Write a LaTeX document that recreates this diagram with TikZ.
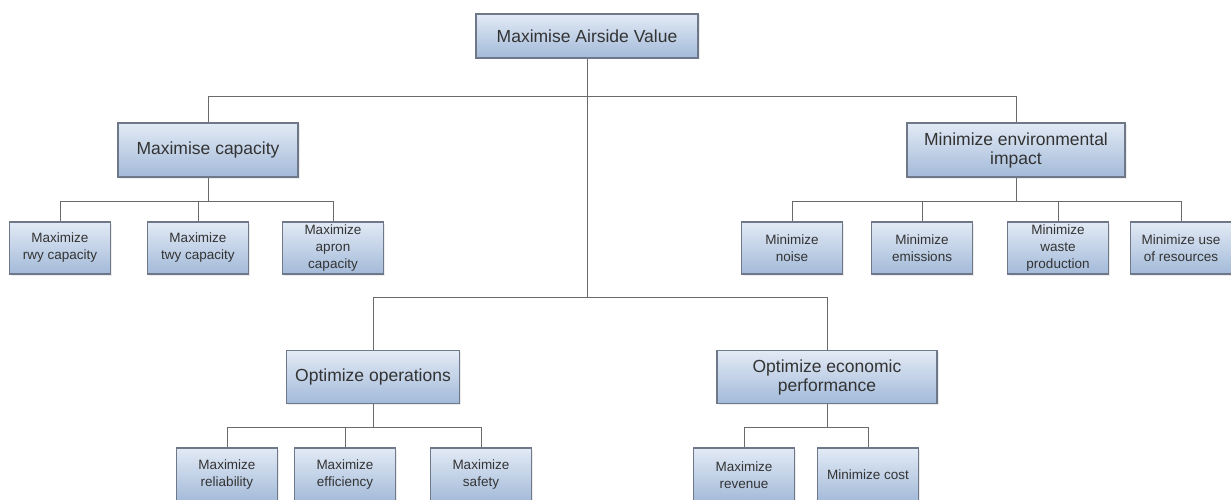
\documentclass[tikz,border=0pt]{standalone}
\usepackage{fontspec}
\setmainfont{Liberation Sans}
\usetikzlibrary{shadows}
\definecolor{boxtop}{HTML}{E2EAF5}
\definecolor{boxbot}{HTML}{A3BAD9}
\definecolor{boxline}{HTML}{6E7888}
\definecolor{wire}{HTML}{6A6A6A}
\definecolor{txt}{HTML}{333333}
\begin{document}
\begin{tikzpicture}[x=1pt,y=-1pt,
  box/.style={rectangle, draw=boxline, line width=1.2pt, top color=boxtop, bottom color=boxbot,
    text=txt, align=center, inner sep=0pt,
    drop shadow={shadow xshift=1.5pt, shadow yshift=-1.5pt, opacity=0.15}},
  rootbox/.style={box, minimum width=222pt, minimum height=44pt, font=\fontsize{17.5}{19}\selectfont},
  midbox/.style={box, minimum height=53pt, font=\fontsize{17.5}{19}\selectfont},
  leafbox/.style={box, minimum width=101pt, minimum height=52pt, font=\fontsize{13.5}{17}\selectfont},
  wire/.style={draw=wire, line width=1pt}]
\fill[white] (0,0) rectangle (1231,500);
\useasboundingbox (0,0) rectangle (1231,500);
\coordinate (bus1) at (0,97);
\coordinate (bus2) at (0,297);
\coordinate (bus3) at (0,201);
\coordinate (bus4) at (0,427);

\node[rootbox] (root) at (587,36) {Maximise Airside Value};

\node[midbox, minimum width=180pt, minimum height=54pt] (cap) at (208,150) {Maximise capacity};
\node[midbox, minimum width=218pt, minimum height=54pt] (env) at (1016,150) {Minimize environmental\\impact};
\node[midbox, minimum width=173pt] (ops) at (373,377) {Optimize operations};
\node[midbox, minimum width=220pt] (eco) at (827,377) {Optimize economic\\performance};

\node[leafbox] (rwy) at (60,248) {Maximize\\rwy capacity};
\node[leafbox] (twy) at (198,248) {Maximize\\twy capacity};
\node[leafbox] (apron) at (333,248) {Maximize\\apron\\capacity};
\node[leafbox] (noise) at (792,248) {Minimize\\noise};
\node[leafbox] (emis) at (922,248) {Minimize\\emissions};
\node[leafbox] (waste) at (1058,248) {Minimize\\waste\\production};
\node[leafbox] (res) at (1181,248) {Minimize use\\of resources};

\node[leafbox, minimum height=54pt] (rel) at (227,475) {Maximize\\reliability};
\node[leafbox, minimum height=54pt] (eff) at (345,475) {Maximize\\efficiency};
\node[leafbox, minimum height=54pt] (saf) at (481,475) {Maximize\\safety};
\node[leafbox, minimum height=54pt] (rev) at (744,475) {Maximize\\revenue};
\node[leafbox, minimum height=54pt] (cost) at (868,475) {Minimize cost};

\draw[wire] (root.south) -- (root.south |- bus2);
\draw[wire] (cap.north) |- (env.north |- bus1) -- (env.north);
\draw[wire] (ops.north) |- (eco.north |- bus2) -- (eco.north);

\draw[wire] (cap.south) -- (cap.south |- bus3);
\draw[wire] (rwy.north) |- (apron.north |- bus3) -- (apron.north);
\draw[wire] (twy.north) -- (twy.north |- bus3);

\draw[wire] (env.south) -- (env.south |- bus3);
\draw[wire] (noise.north) |- (res.north |- bus3) -- (res.north);
\draw[wire] (emis.north) -- (emis.north |- bus3);
\draw[wire] (waste.north) -- (waste.north |- bus3);

\draw[wire] (ops.south) -- (ops.south |- bus4);
\draw[wire] (rel.north) |- (saf.north |- bus4) -- (saf.north);
\draw[wire] (eff.north) -- (eff.north |- bus4);

\draw[wire] (eco.south) -- (eco.south |- bus4);
\draw[wire] (rev.north) |- (cost.north |- bus4) -- (cost.north);
\end{tikzpicture}
\end{document}
